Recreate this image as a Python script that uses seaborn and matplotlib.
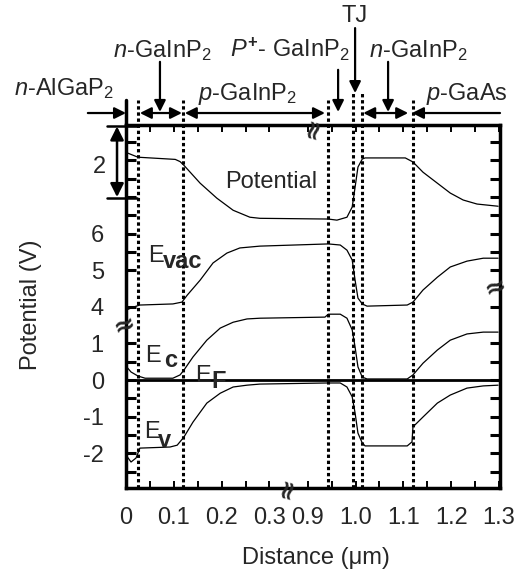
import numpy as np
import pandas as pd
import seaborn as sns
import matplotlib.pyplot as plt
import matplotlib.transforms as mtransforms

# datos: distancia en um, energias en eV (respecto a E_F)
pot_x = [0, 0.004, 0.025, 0.103, 0.113, 0.121, 0.155, 0.190, 0.224, 0.259, 0.280,
         0.943, 0.961, 0.982, 0.993, 0.999, 1.005, 1.014, 1.020, 1.104, 1.120,
         1.141, 1.171, 1.198, 1.225, 1.254, 1.298]
pot_y = [6.23, 6.20, 6.09, 6.03, 5.97, 5.87, 5.38, 4.97, 4.64, 4.45, 4.42,
         4.40, 4.37, 4.45, 4.73, 5.27, 5.82, 6.04, 6.07, 6.07, 5.96,
         5.68, 5.38, 5.11, 4.92, 4.81, 4.75]

evac_x = [0, 0.0146, 0.029, 0.098, 0.117, 0.128, 0.155, 0.182, 0.211, 0.238, 0.280,
          0.943, 0.968, 0.982, 0.993, 0.999, 1.005, 1.014, 1.024, 1.108, 1.120,
          1.141, 1.171, 1.198, 1.233, 1.267, 1.298]
evac_y = [3.91, 3.99, 4.05, 4.08, 4.13, 4.32, 4.73, 5.20, 5.47, 5.61, 5.66,
          5.72, 5.69, 5.55, 5.28, 4.73, 4.24, 4.08, 4.02, 4.05, 4.13,
          4.46, 4.81, 5.09, 5.25, 5.33, 5.33]

ec_x = [0, 0.0105, 0.025, 0.040, 0.098, 0.113, 0.121, 0.140, 0.169, 0.197, 0.224, 0.253, 0.280,
        0.936, 0.943, 0.968, 0.982, 0.993, 0.999, 1.005, 1.014, 1.024, 1.108, 1.120,
        1.141, 1.171, 1.198, 1.233, 1.267, 1.298]
ec_y = [0.38, 0.22, 0.11, 0.05, 0.05, 0.14, 0.27, 0.63, 1.09, 1.42, 1.58, 1.67, 1.69,
        1.72, 1.80, 1.80, 1.69, 1.37, 0.90, 0.36, 0.08, 0.03, 0.03, 0.14,
        0.46, 0.82, 1.09, 1.26, 1.31, 1.31]

ev_x = [0, 0.0105, 0.021, 0.029, 0.092, 0.107, 0.121, 0.140, 0.169, 0.197, 0.224, 0.253, 0.280,
        0.940, 0.968, 0.982, 0.993, 0.999, 1.005, 1.014, 1.020, 1.108, 1.118, 1.120,
        1.141, 1.171, 1.198, 1.233, 1.267, 1.298]
ev_y = [-2.05, -2.24, -2.13, -1.86, -1.83, -1.78, -1.56, -1.15, -0.63, -0.36, -0.19, -0.14, -0.11,
        -0.08, -0.08, -0.19, -0.46, -0.90, -1.45, -1.72, -1.80, -1.80, -1.69, -1.28,
        -1.01, -0.63, -0.41, -0.22, -0.16, -0.14]

# limites de las capas (um)
boundaries = [0.025, 0.12, 0.943, 0.995, 1.014, 1.12]

xtick_pos = [0, 0.05, 0.1, 0.15, 0.2, 0.25, 0.3, 0.9, 0.95, 1.0, 1.05, 1.1, 1.15, 1.2, 1.25, 1.3]
xtick_lab = ['0', '', '0.1', '', '0.2', '', '0.3', '0.9', '', '1.0', '', '1.1', '', '1.2', '', '1.3']
ytick_pos = [-2.5, -2, -1.5, -1, -0.5, 0, 0.5, 1, 2, 3, 3.5, 4, 4.5, 5, 5.5, 6, 6.5]
ytick_lab = ['', '-2', '', '-1', '', '0', '', '1', '4', '5', '', '6', '', '', '', '', '']

evac_shift = -2.0  # la parte de E_vac esta dibujada 2 V mas abajo

sns.set_style("ticks")
plt.rcParams['font.family'] = ['Liberation Sans', 'DejaVu Sans']
plt.rcParams['mathtext.fontset'] = 'custom'
plt.rcParams['mathtext.rm'] = 'Liberation Sans'
plt.rcParams['mathtext.it'] = 'Liberation Sans:italic'
plt.rcParams['mathtext.bf'] = 'Liberation Sans:bold'
FS = 17

fig = plt.figure(figsize=(5.26, 5.80), dpi=100)
ax = fig.add_axes([126 / 526, 92 / 580, 374 / 526, 363 / 580])

shift = mtransforms.Affine2D().translate(0, evac_shift) + ax.transData
for xs, ys, tr in [(pot_x, pot_y, ax.transData), (evac_x, evac_y, shift),
                   (ec_x, ec_y, ax.transData), (ev_x, ev_y, ax.transData)]:
    sns.lineplot(x=xs, y=ys, ax=ax, color='black', lw=0.9, estimator=None,
                 sort=False, transform=tr)

# eje x cortado entre 0.34 y 0.86 um
def fwd(x):
    x = np.asarray(x, dtype=float)
    return np.where(x <= 0.34, x, np.where(x >= 0.86, x - 0.52, 0.34))

def inv(u):
    u = np.asarray(u, dtype=float)
    return np.where(u <= 0.34, u, u + 0.52)

ax.set_xscale('function', functions=(fwd, inv))
ax.set_xlim(0, 1.302)
ax.set_ylim(-2.95, 6.97)
ax.set_xticks(xtick_pos, xtick_lab)
ax.set_yticks(ytick_pos, ytick_lab)
ax.tick_params(axis='x', direction='in', length=5, width=1.4, top=True,
               labelsize=FS, pad=13.5, color='black')
ax.tick_params(axis='y', direction='in', length=7.5, width=2.2, right=True,
               labelsize=FS, pad=16, color='black')
for s in ax.spines.values():
    s.set_linewidth(2.5)
    s.set_color('black')

ax.axhline(0, color='black', lw=2.0, zorder=4)

bx = mtransforms.blended_transform_factory(ax.transData, ax.transAxes)
by = mtransforms.blended_transform_factory(ax.transAxes, ax.transData)

tops = [1.069, 1.069, 1.069, 1.088, 1.088, 1.069]
for b, t in zip(boundaries, tops):
    ax.plot([b, b], [0, t], transform=bx, color='black', lw=2.2,
            linestyle=(0, (1.1, 0.9)), clip_on=False, zorder=3)
ax.plot([0, 0], [1, 1.069], transform=bx, color='black', lw=2.5, clip_on=False)

# flechas de las capas
def arrow(head, tail, hc, tc, style='-|>', ms=17):
    ax.annotate('', xy=head, xytext=tail, xycoords=hc, textcoords=tc,
                arrowprops=dict(arrowstyle=style, color='black', lw=1.6,
                                mutation_scale=ms, shrinkA=0, shrinkB=0),
                annotation_clip=False)

ya = 1.033
arrow((0, ya), (-0.102, ya), bx, 'axes fraction')
arrow((0.117, ya), (0.029, ya), bx, bx, '<|-|>')
arrow((0.936, ya), (0.123, ya), bx, bx, '<|-|>')
arrow((1.110, ya), (1.016, ya), bx, bx, '<|-|>')
arrow((1.118, ya), (1.0, ya), bx, 'axes fraction')
arrow((0.071, 1.036), (0.071, 1.174), bx, bx)
arrow((0.9635, 1.036), (0.9635, 1.152), bx, bx)
arrow((0.999, 1.088), (0.999, 1.267), bx, bx)
arrow((1.068, 1.036), (1.068, 1.174), bx, bx)

tkw = dict(transform=ax.transAxes, fontsize=FS, ha='center', va='baseline', clip_on=False)
ax.text(-0.166, 1.083, r'$\it{n}$-AlGaP$_2$', **tkw)
ax.text(0.096, 1.187, r'$\it{n}$-GaInP$_2$', **tkw)
ax.text(0.324, 1.069, r'$\it{p}$-GaInP$_2$', **tkw)
ax.text(0.439, 1.187, r'$\it{P}^{\mathbf{+}}$- GaInP$_2$', **tkw)
ax.text(0.610, 1.284, 'TJ', **tkw)
ax.text(0.781, 1.187, r'$\it{n}$-GaInP$_2$', **tkw)
ax.text(0.912, 1.069, r'$\it{p}$-GaAs', **tkw)

# barra de escala del potencial (2 V)
ax.annotate('', xy=(-0.024, 6.93), xytext=(-0.024, 5.0), xycoords=by, textcoords=by,
            arrowprops=dict(arrowstyle='<|-|>', color='black', lw=1.8,
                            mutation_scale=20, shrinkA=0, shrinkB=0),
            annotation_clip=False)
for yb in [4.97, 6.95]:
    ax.plot([-0.05, 0.03], [yb, yb], transform=by, color='black', lw=1.8, clip_on=False)
ax.text(-0.072, 5.82, '2', transform=by, fontsize=FS, ha='center', va='center')

# etiquetas de las bandas
ax.text(0.304, 5.25, 'Potential', fontsize=FS, ha='center', va='baseline')
for x0, y0, sub, dx, dy in [(0.046, 3.22, 'vac', 10.8, -4.3), (0.040, 0.49, 'c', 14, -3.6),
                            (0.145, -0.05, 'F', 11.5, -4.3), (0.038, -1.58, 'v', 10, -6.5)]:
    ax.text(x0, y0, 'E', fontsize=FS, ha='left', va='baseline', zorder=5)
    ax.annotate(sub, xy=(x0, y0), xytext=(dx, dy), textcoords='offset points',
                fontsize=FS, fontweight='bold', ha='left', va='baseline', zorder=5)

# marcas de corte
bk = dict(fontsize=19, fontweight='bold', family='DejaVu Sans', ha='center',
          va='center', clip_on=False, zorder=6)
ax.text(-0.005, 1.5, '\u2248', transform=by, rotation=20, **bk)
ax.text(0.987, 2.54, '\u2248', transform=by, rotation=20, **bk)
ax.text(0.337, 0.0, '\u2248', transform=bx, rotation=75, **bk)
ax.text(0.911, 0.99, '\u2248', transform=bx, rotation=75, **bk)

ax.set_ylabel('Potential (V)', fontsize=FS)
ax.yaxis.set_label_coords(-0.225, 0.504)
ax.set_xlabel('Distance (\u03bcm)', fontsize=FS)
ax.xaxis.set_label_coords(0.508, -0.163)

fig.savefig('out.png', dpi=100)
